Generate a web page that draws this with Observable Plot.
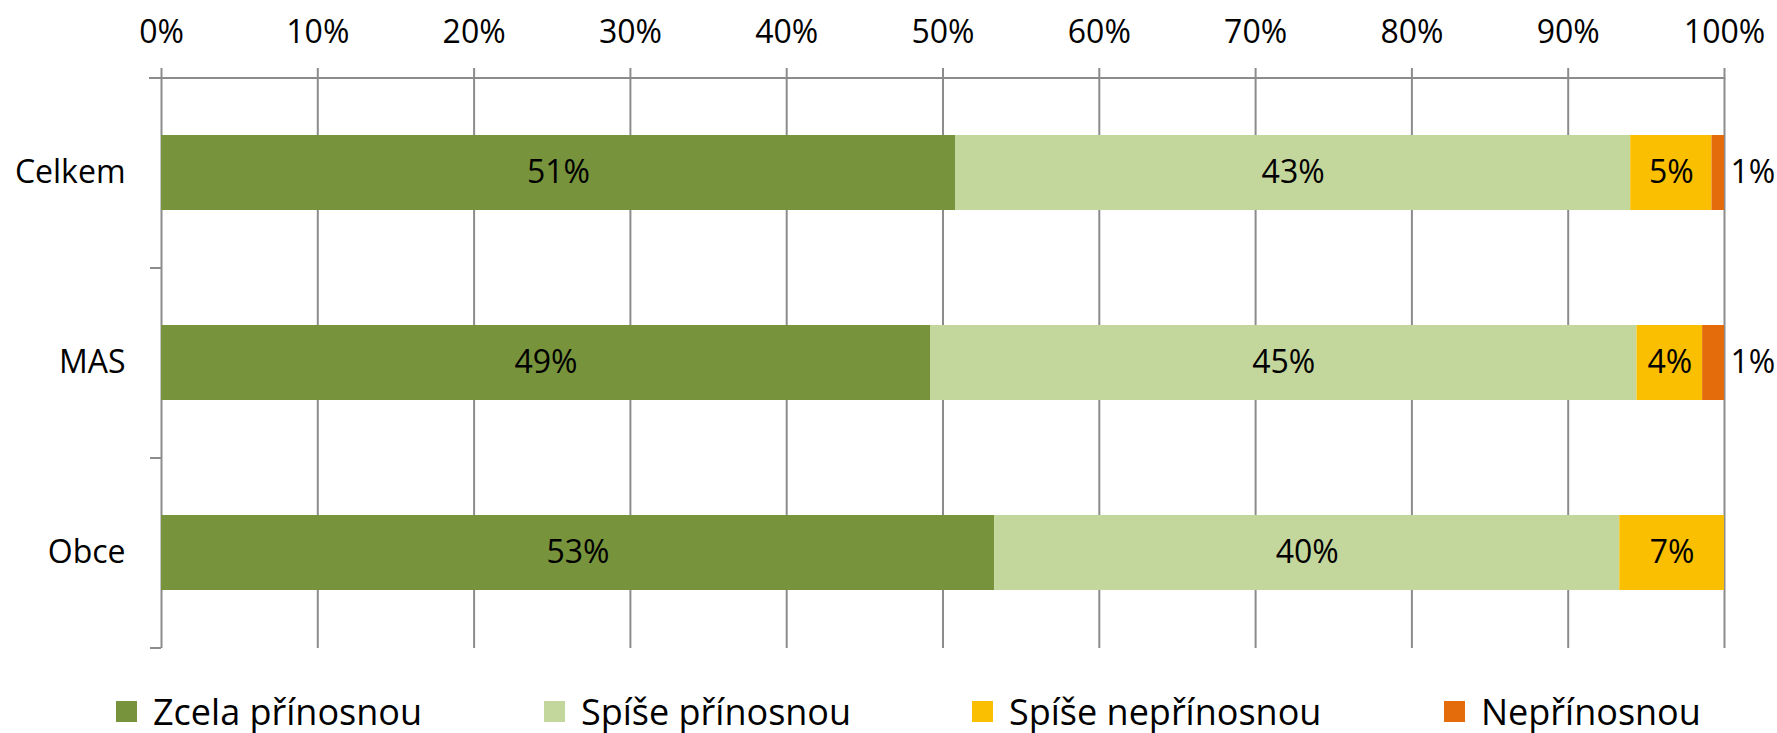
<!DOCTYPE html>
<html><head><meta charset="utf-8">
<script src="https://cdn.jsdelivr.net/npm/d3@7"></script>
<script src="https://cdn.jsdelivr.net/npm/@observablehq/plot@0.6"></script>
<style>
body{margin:0;background:#fff;}
#wrap{position:relative;width:1777px;height:733px;font-family:'Open Sans',sans-serif;background:#fff;}
#legend{position:absolute;left:0;top:680px;width:1777px;height:53px;}
.item{position:absolute;top:0;height:62px;display:flex;align-items:center;font-size:36px;color:#000;white-space:nowrap;}
.sw{width:21px;height:21px;margin-right:16px;flex:none;}
</style></head><body><div id="wrap"></div>
<script>
// ---- data ----
const categories = ["Celkem", "MAS", "Obce"];
const seriesNames = ["Zcela přínosnou", "Spíše přínosnou", "Spíše nepřínosnou", "Nepřínosnou"];
const seriesColors = ["#77933C", "#C3D69B", "#F9BF00", "#E46C0A"];
const zcelaPrinosnou = [0.508, 0.492, 0.533];
const spisePrinosnou = [0.432, 0.452, 0.400];
const spiseNeprinosnou = [0.052, 0.042, 0.067];
const neprinosnou = [0.008, 0.014, 0.0];
const xTickValues = [0, 0.1, 0.2, 0.3, 0.4, 0.5, 0.6, 0.7, 0.8, 0.9, 1];

// ---- layout ----
const W = 1777, H = 680;
const M = {top: 78, right: 53, bottom: 32, left: 161};
const legendLeft = [116, 544, 972, 1444];
const gray = "#8c8c8c";

const seriesValues = [zcelaPrinosnou, spisePrinosnou, spiseNeprinosnou, neprinosnou];
const rows = [];
categories.forEach((c, i) => seriesNames.forEach((s, j) => rows.push({cat: c, series: s, value: seriesValues[j][i]})));
const pct = v => Math.round(v * 100) + "%";
const lastSeries = seriesNames[seriesNames.length - 1];

const step = (H - M.top - M.bottom) / categories.length;

const chart = Plot.plot({
  width: W, height: H,
  marginTop: M.top, marginRight: M.right, marginBottom: M.bottom, marginLeft: M.left,
  style: {fontFamily: "'Open Sans', sans-serif", fontSize: "32px", color: "#000", background: "#fff", overflow: "visible"},
  x: {domain: [0, 1], axis: null},
  y: {domain: categories, paddingInner: 0.605, paddingOuter: 0.3025, axis: null},
  color: {domain: seriesNames, range: seriesColors},
  marks: [
    Plot.gridX(xTickValues, {stroke: gray, strokeOpacity: 1, strokeWidth: 2}),
    Plot.axisX({anchor: "top", ticks: xTickValues, tickFormat: d3.format(".0%"), tickSize: 11, tickPadding: 25, stroke: gray, strokeWidth: 2, label: null, fill: "#000"}),
    Plot.ruleY([categories[0]], {y: d => d, dy: -step / 2, insetLeft: -12, stroke: gray, strokeWidth: 2}),
    Plot.axisY({ticks: categories, tickSize: 11, tickFormat: () => "", dy: step / 2, stroke: gray, strokeWidth: 2, label: null}),
    Plot.axisY({ticks: categories, tickSize: 0, tickPadding: 36, label: null, fill: "#000"}),
    Plot.barX(rows, {x: "value", y: "cat", fill: "series"}),
    Plot.text(rows, Plot.stackX({x: "value", y: "cat", z: "series", text: d => (d.series !== lastSeries && d.value > 0) ? pct(d.value) : null, fill: "#000"})),
    Plot.text(rows, Plot.stackX2({x: "value", y: "cat", z: "series", text: d => (d.series === lastSeries && d.value > 0) ? pct(d.value) : null, textAnchor: "start", dx: 6, fill: "#000"}))
  ]
});

const wrap = document.getElementById("wrap");
wrap.appendChild(chart);
const legend = document.createElement("div");
legend.id = "legend";
seriesNames.forEach((s, i) => {
  const it = document.createElement("div");
  it.className = "item";
  it.style.left = legendLeft[i] + "px";
  const sw = document.createElement("div");
  sw.className = "sw";
  sw.style.background = seriesColors[i];
  it.appendChild(sw);
  const t = document.createElement("span");
  t.textContent = s;
  it.appendChild(t);
  legend.appendChild(it);
});
wrap.appendChild(legend);
</script></body></html>
